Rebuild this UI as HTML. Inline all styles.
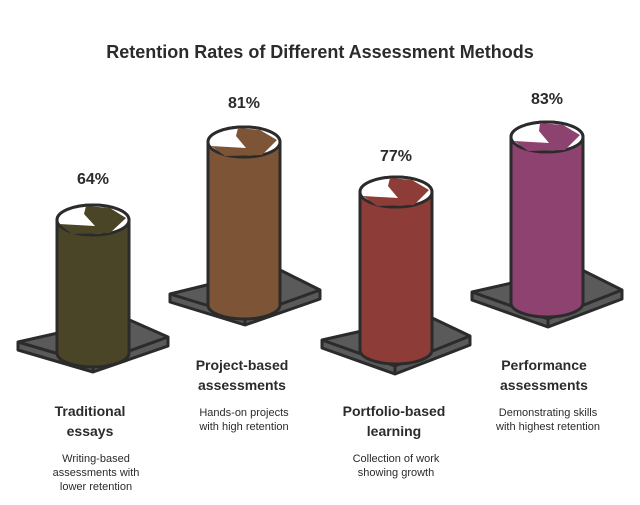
<!DOCTYPE html>
<html><head><style>
body{margin:0;background:#fff;}
svg text{font-family:"Liberation Sans",sans-serif;fill:#2b2b2b;}
</style></head><body>
<svg width="640" height="500" viewBox="0 0 640 500" xmlns="http://www.w3.org/2000/svg">
<text x="320" y="58" text-anchor="middle" font-size="18" font-weight="bold">Retention Rates of Different Assessment Methods</text>
<g stroke="#2b2b2b" stroke-width="3" stroke-linejoin="round">
<g fill="#5a5a5a">
<path d="M18,342 L125,318 L168,337 L168,346 L93,372 L18,350 Z"/>
<path d="M18,342 L93,364 L168,337" fill="none"/><path d="M93,364 L93,372" fill="none"/>
<path d="M170,294 L276,268 L320,290 L320,299 L245,325 L170,302 Z"/>
<path d="M170,294 L245,317 L320,290" fill="none"/><path d="M245,317 L245,325" fill="none"/>
<path d="M322,340 L428,316 L470,336 L470,345 L395,374 L322,348 Z"/>
<path d="M322,340 L395,366 L470,336" fill="none"/><path d="M395,366 L395,374" fill="none"/>
<path d="M472,292 L578,268 L622,290 L622,299 L548,327 L472,300 Z"/>
<path d="M472,292 L548,319 L622,290" fill="none"/><path d="M548,319 L548,327" fill="none"/>
</g>
<path d="M57,220 L57,353 A36,14 0 0 0 129,353 L129,220 A36,15 0 0 0 57,220 Z" fill="#4a4526"/>
<ellipse cx="93" cy="220" rx="36" ry="15" fill="#fff"/>
<path d="M208,142 L208,305 A36,14 0 0 0 280,305 L280,142 A36,15 0 0 0 208,142 Z" fill="#7d5536"/>
<ellipse cx="244" cy="142" rx="36" ry="15" fill="#fff"/>
<path d="M360,192 L360,350 A36,14 0 0 0 432,350 L432,192 A36,15 0 0 0 360,192 Z" fill="#8e3c38"/>
<ellipse cx="396" cy="192" rx="36" ry="15" fill="#fff"/>
<path d="M511,137 L511,303 A36,14 0 0 0 583,303 L583,137 A36,15 0 0 0 511,137 Z" fill="#8e4270"/>
<ellipse cx="547" cy="137" rx="36" ry="15" fill="#fff"/>
</g>
<g stroke="none">
<path d="M86,206 L110,208 L126,218 L110,233 L72,234 L59,224 L95,226 L84,214 Z" fill="#4a4526"/>
<path d="M238,128 L260,130 L277,140 L262,155 L225,156 L211,146 L246,148 L236,136 Z" fill="#7d5536"/>
<path d="M390,178 L412,180 L429,190 L414,205 L377,206 L363,196 L398,198 L388,186 Z" fill="#8e3c38"/>
<path d="M540,123 L563,125 L580,135 L565,150 L528,151 L514,141 L549,143 L539,131 Z" fill="#8e4270"/>
</g>
<g font-size="16" font-weight="bold" text-anchor="middle">
<text x="93" y="184">64%</text>
<text x="244" y="108">81%</text>
<text x="396" y="161">77%</text>
<text x="547" y="104">83%</text>
</g>
<g font-size="14" font-weight="bold" text-anchor="middle">
<text x="90" y="416">Traditional</text><text x="90" y="436">essays</text>
<text x="242" y="370">Project-based</text><text x="242" y="390">assessments</text>
<text x="394" y="416">Portfolio-based</text><text x="394" y="436">learning</text>
<text x="544" y="370">Performance</text><text x="544" y="390">assessments</text>
</g>
<g font-size="11" text-anchor="middle">
<text x="96" y="462">Writing-based</text><text x="96" y="476">assessments with</text><text x="96" y="490">lower retention</text>
<text x="244" y="416">Hands-on projects</text><text x="244" y="430">with high retention</text>
<text x="396" y="462">Collection of work</text><text x="396" y="476">showing growth</text>
<text x="548" y="416">Demonstrating skills</text><text x="548" y="430">with highest retention</text>
</g>
</svg>
</body></html>
